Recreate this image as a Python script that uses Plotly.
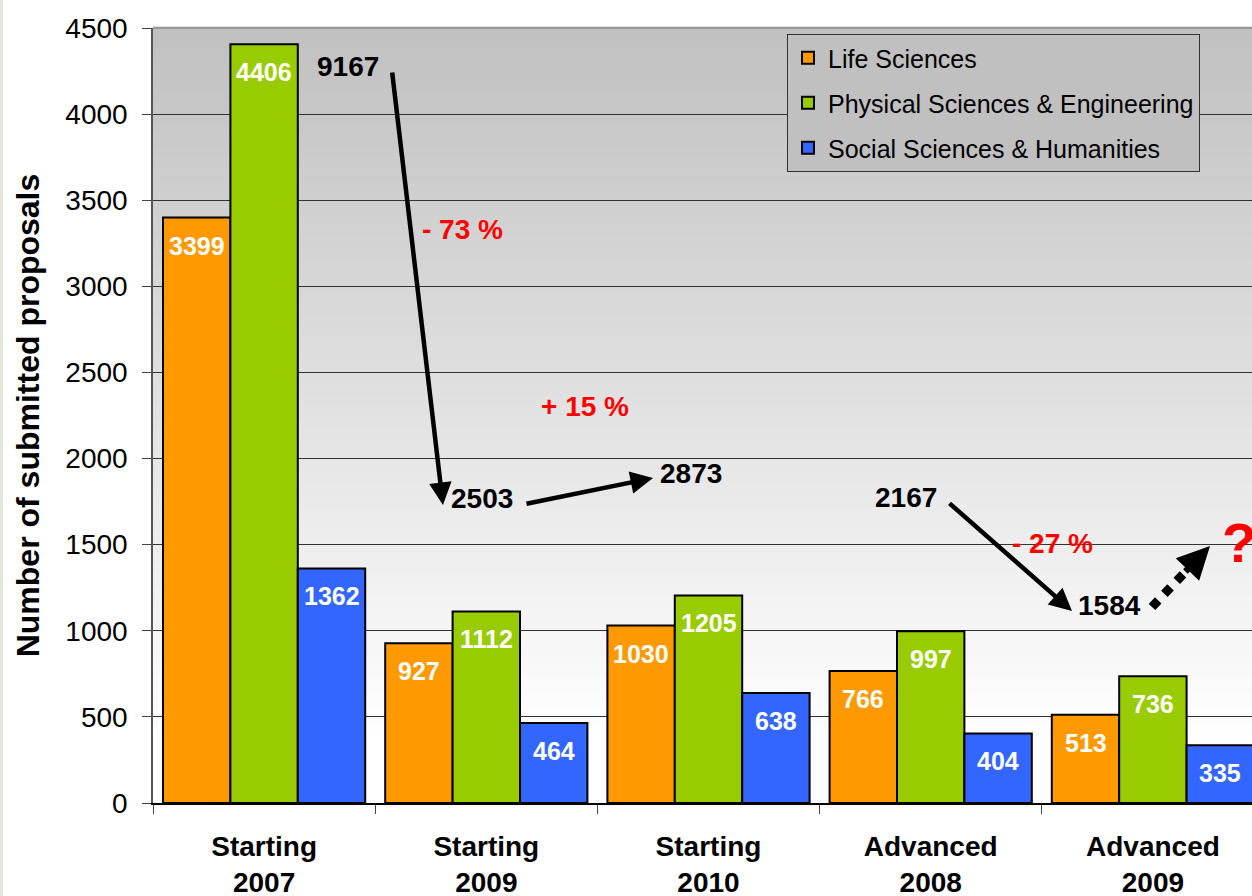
import plotly.graph_objects as go

# ---------------- data ----------------
categories = ["Starting<br>2007", "Starting<br>2009", "Starting<br>2010",
              "Advanced<br>2008", "Advanced<br>2009"]
series_names = ["Life Sciences", "Physical Sciences & Engineering",
                "Social Sciences & Humanities"]
life_sciences = [3399, 927, 1030, 766, 513]
physical_sciences = [4406, 1112, 1205, 997, 736]
social_sciences = [1362, 464, 638, 404, 335]
change_labels = ["- 73 %", "+ 15 %", "- 27 %"]
y_ticks = [0, 500, 1000, 1500, 2000, 2500, 3000, 3500, 4000, 4500]

series_values = [life_sciences, physical_sciences, social_sciences]
series_colors = ["#FF9900", "#99CC00", "#3366FF"]
totals = [sum(v) for v in zip(*series_values)]

# ---------------- layout geometry ----------------
W, H = 1252, 896
PL, PT, PB, PR = 153, 28, 803, 1252   # plot box in page pixels
L, T = PL, PT
B = H - PB
R = W - PR
PW, PH = W - L - R, H - T - B
FONT = "Liberation Sans, Arial, sans-serif"
BARGAP = 0.09
cat_px = 222.2
x_max = -0.5 + PW / cat_px


def paper(xp, yp):
    """page pixel -> paper fraction"""
    return (xp - PL) / PW, (PB - yp) / PH


fig = go.Figure()
for name, vals, col in zip(series_names, series_values, series_colors):
    fig.add_trace(go.Bar(
        x=categories, y=vals, name=name, legendgroup=name,
        marker=dict(color=col, line=dict(color="black", width=2)),
        hoverinfo="y+name",
    ))

annotations = []
# value labels inside the bars
bw = (1 - BARGAP) / 3
for k, vals in enumerate(series_values):
    for i, v in enumerate(vals):
        annotations.append(dict(
            x=i + (k - 1) * bw, y=v, xref="x", yref="y", text=str(v),
            showarrow=False, yshift=-28, yanchor="middle",
            font=dict(family=FONT, size=25, color="white", weight="bold"),
        ))


def text_at(xp, yp, text, color="black", size=28):
    px_, py_ = paper(xp, yp)
    annotations.append(dict(
        x=px_, y=py_, xref="paper", yref="paper", text=text, showarrow=False,
        xanchor="center", yanchor="middle",
        font=dict(family=FONT, size=size, color=color, weight="bold"),
    ))


def arrow(x0, y0, x1, y1, width=4.5, size=1.0):
    hx, hy = paper(x1, y1)
    annotations.append(dict(
        x=hx, y=hy, xref="paper", yref="paper", text="", showarrow=True,
        ax=x0 - x1, ay=y0 - y1, axref="pixel", ayref="pixel",
        arrowhead=2, arrowwidth=width, arrowsize=size, arrowcolor="black",
        standoff=0, startstandoff=0,
    ))


# totals and trends
text_at(348, 67, str(totals[0]))
text_at(482, 498, str(totals[1]))
text_at(691, 473, str(totals[2]))
text_at(906, 497, str(totals[3]))
text_at(1109, 605, str(totals[4]))
text_at(462, 230, change_labels[0], color="#FF0000")
text_at(585, 406, change_labels[1], color="#FF0000")
text_at(1052, 543, change_labels[2], color="#FF0000")
text_at(1239, 542, "?", color="#FF0000", size=56)

arrow(392, 71, 443, 505)
arrow(525, 504, 653, 478)
arrow(948, 502, 1072, 611)
# dotted arrow head
arrow(1184, 573, 1210, 546, width=6.5, size=1.0)

shapes = []
# gradient background of plot area
N = 160
for j in range(N):
    t0 = j / N
    t1 = (j + 1) / N
    tm = (t0 + t1) / 2  # 0 at top, 1 at bottom
    g = 192 + 63 * min(tm / 0.92, 1.0)
    g = int(round(min(g, 255)))
    shapes.append(dict(
        type="rect", xref="paper", yref="paper", x0=0, x1=1,
        y0=1 - t1, y1=1 - t0 + 0.002, fillcolor=f"rgb({g},{g},{g})",
        line=dict(width=0), layer="below",
    ))
# dotted line of the last arrow
dx0, dy0 = paper(1152, 607)
dx1, dy1 = paper(1188, 569)
shapes.append(dict(type="line", xref="paper", yref="paper",
                   x0=dx0, y0=dy0, x1=dx1, y1=dy1,
                   line=dict(color="black", width=9, dash="dot")))
# top border of plot
shapes.append(dict(type="line", xref="paper", yref="paper", x0=0, x1=1,
                   y0=1, y1=1, line=dict(color="#999999", width=2)))
# thin page border at the left edge
bx0, _ = paper(0, 0)
bx1, _ = paper(3, 0)
shapes.append(dict(type="rect", xref="paper", yref="paper", x0=bx0, x1=bx1,
                   y0=paper(0, H)[1], y1=paper(0, 0)[1],
                   fillcolor="#e6e6df", line=dict(width=0)))

lx, ly = paper(787, 34)

fig.update_layout(
    width=W, height=H,
    margin=dict(l=L, r=R, t=T, b=B, autoexpand=False),
    paper_bgcolor="white", plot_bgcolor="rgba(0,0,0,0)",
    barmode="group", bargap=BARGAP, bargroupgap=0,
    font=dict(family=FONT, color="black"),
    showlegend=True,
    legend=dict(
        x=lx, y=ly, xanchor="left", yanchor="top",
        bgcolor="#c0c0c0", bordercolor="#333333", borderwidth=1,
        font=dict(family=FONT, size=25, color="black"),
        tracegroupgap=9.5, traceorder="grouped",
    ),
    xaxis=dict(
        type="category", range=[-0.5, x_max],
        showline=True, linecolor="black", linewidth=2,
        ticks="outside", tickson="boundaries", ticklen=9,
        tickcolor="#444444", tickwidth=1,
        tickfont=dict(family=FONT, size=28, color="black", weight="bold"),
        ticklabelstandoff=17,
        showgrid=False, zeroline=False, fixedrange=True,
    ),
    yaxis=dict(
        range=[0, 4500], tickvals=y_ticks,
        showline=True, linecolor="#555555", linewidth=1.5,
        ticks="outside", ticklen=9, tickcolor="#444444", tickwidth=1,
        tickfont=dict(family=FONT, size=28, color="black"),
        ticklabelstandoff=9,
        showgrid=True, gridcolor="#333333", gridwidth=1,
        zeroline=False, fixedrange=True,
        title=dict(text="Number of submitted proposals", standoff=16,
                   font=dict(family=FONT, size=32, color="black",
                             weight="bold")),
    ),
    annotations=annotations,
    shapes=shapes,
)

fig.write_html("out.html",
               config={"displayModeBar": False},
               post_script="document.body.style.margin='0';"
                           "document.documentElement.style.overflow='hidden';"
                           "document.body.style.overflow='hidden';")
